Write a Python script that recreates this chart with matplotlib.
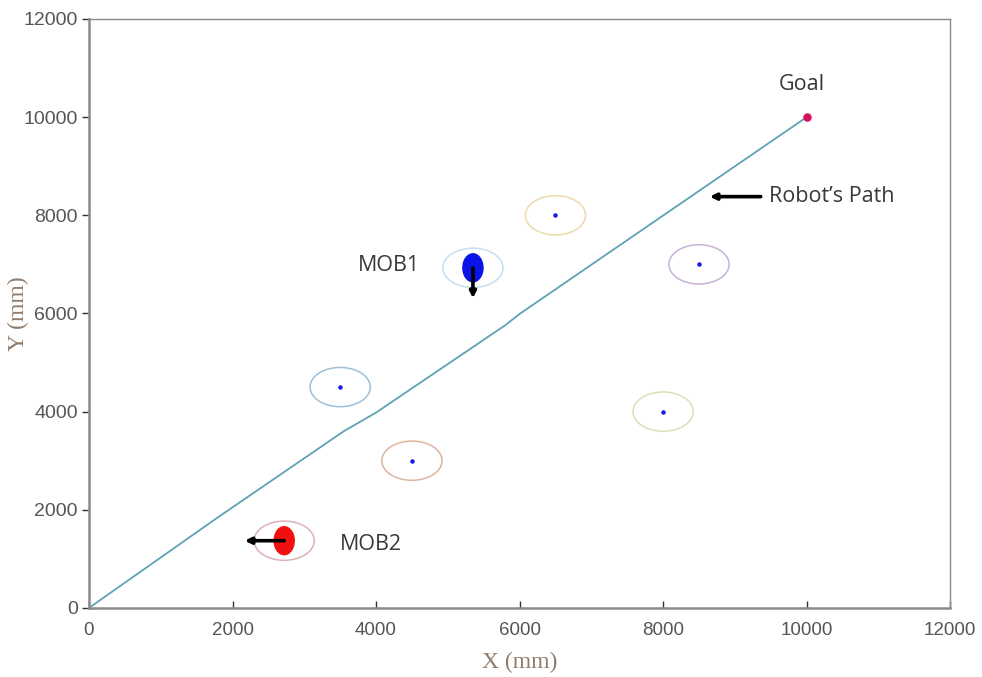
import matplotlib.pyplot as plt
from matplotlib.patches import Ellipse

# robot path (mm)
path_x = [0, 1800, 3550, 4000, 5800, 6000, 10000]
path_y = [0, 1850, 3600, 3980, 5760, 5990, 10000]

# static obstacles: centre and ring colour
obs_x = [3500, 4500, 6500, 8500, 8000]
obs_y = [4500, 3000, 8000, 7000, 4000]
obs_colors = ["#9cc0d8", "#ddb4a0", "#eadca8", "#c8b2d6", "#dde0b4"]
safe_radius = 400

# moving obstacles
mob_names = ["MOB1", "MOB2"]
mob_x = [5350, 2720]
mob_y = [6930, 1370]
mob_dx = [0, -550]
mob_dy = [-620, 0]
mob_fill = ["#0a14e6", "#f01010"]
mob_ring = ["#c4e0ee", "#dcb0b8"]

goal = (10000, 10000)

fig = plt.figure(figsize=(9.82, 6.77), dpi=100, facecolor="white")
ax = fig.add_axes([0.0906, 0.102, 0.877, 0.870])

ax.plot(path_x, path_y, color="#5ea3b3", linewidth=1.3, zorder=2)

for x, y, c in zip(obs_x, obs_y, obs_colors):
    ax.add_patch(Ellipse((x, y), 2 * safe_radius * 1.05, 2 * safe_radius, fill=False,
                         edgecolor=c, linewidth=1.1, zorder=1))
ax.scatter(obs_x, obs_y, s=5, color="#1a1adf", zorder=3)

for x, y, dx, dy, fc, rc in zip(mob_x, mob_y, mob_dx, mob_dy, mob_fill, mob_ring):
    ax.add_patch(Ellipse((x, y), 2 * safe_radius * 1.05, 2 * safe_radius, fill=False,
                         edgecolor=rc, linewidth=1.1, zorder=1))
    ax.add_patch(Ellipse((x, y), 280, 570, facecolor=fc, edgecolor=fc, zorder=3))
    ax.annotate("", xy=(x + dx, y + dy), xytext=(x, y),
                arrowprops=dict(arrowstyle="-|>", color="black", lw=2.6,
                                mutation_scale=9, shrinkA=0, shrinkB=0), zorder=4)

ax.scatter([goal[0]], [goal[1]], s=26, color="#d3125e", zorder=4)

label_kw = dict(fontsize=15.5, color="#383838", family="Open Sans")
ax.text(9930, 10670, "Goal", ha="center", va="center", **label_kw)
ax.text(4180, 6980, mob_names[0], ha="center", va="center", **label_kw)
ax.text(3930, 1300, mob_names[1], ha="center", va="center", **label_kw)
ax.text(9480, 8380, "Robot\u2019s Path", ha="left", va="center", **label_kw)
ax.annotate("", xy=(8650, 8380), xytext=(9360, 8380),
            arrowprops=dict(arrowstyle="-|>", color="black", lw=2.6,
                            mutation_scale=9, shrinkA=0, shrinkB=0))

ax.set_xlim(0, 12000)
ax.set_ylim(0, 12000)
ax.set_xticks(range(0, 12001, 2000))
ax.set_yticks(range(0, 12001, 2000))

for side in ["left", "bottom", "top", "right"]:
    ax.spines[side].set_color("#8a8a8a")
ax.spines["left"].set_linewidth(1.8)
ax.spines["bottom"].set_linewidth(1.8)
ax.spines["top"].set_linewidth(1.0)
ax.spines["right"].set_linewidth(1.0)

ax.tick_params(axis="x", direction="in", length=5, width=1.0, color="#333333",
               labelsize=13.5, labelcolor="#555555", pad=10)
ax.tick_params(axis="y", direction="out", length=5, width=1.0, color="#333333",
               labelsize=14, labelcolor="#555555", pad=3)
for lbl in ax.get_xticklabels() + ax.get_yticklabels():
    lbl.set_family("Liberation Sans")

ax.set_xlabel("X (mm)", family="Liberation Serif", fontsize=17, color="#8f7c6c", va="center")
ax.set_ylabel("Y (mm)", family="Liberation Serif", fontsize=17, color="#8f7c6c", va="center")
ax.xaxis.set_label_coords(0.5, -0.092)
ax.yaxis.set_label_coords(-0.082, 0.5)

fig.savefig("out.png", dpi=100, facecolor="white")
